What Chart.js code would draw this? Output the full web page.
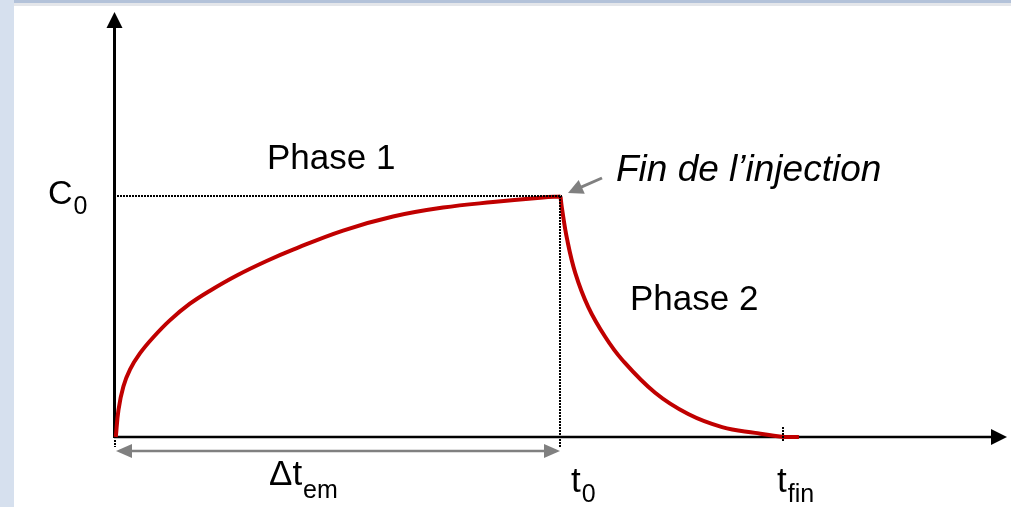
<!DOCTYPE html>
<html>
<head>
<meta charset="utf-8">
<script src="https://cdn.jsdelivr.net/npm/chart.js@4/dist/chart.umd.min.js"></script>
<style>
  html, body { margin: 0; padding: 0; background: #fff; overflow: hidden; }
  canvas { display: block; }
</style>
</head>
<body>
<canvas id="chart-conc" width="1011" height="507"></canvas>
<script>
// phase 1 : injection (concentration rises toward C0)
const phase1T = [0.04, 0.1, 0.21, 0.36, 0.58, 0.87, 1.25, 1.7, 2.15, 2.76, 3.43, 4.01, 5.13, 6.25, 7.37, 8.49, 9.61, 10];
const phase1C = [0, 0.112, 0.209, 0.28, 0.346, 0.411, 0.483, 0.552, 0.606, 0.67, 0.73, 0.776, 0.855, 0.913, 0.95, 0.973, 0.992, 0.996];
// phase 2 : after end of injection (decay)
const phase2T = [10, 10.03, 10.15, 10.33, 10.62, 11.0, 11.38, 12.12, 12.86, 13.62, 14.36, 15.03, 15.34];
const phase2C = [0.996, 0.95, 0.817, 0.68, 0.539, 0.415, 0.32, 0.183, 0.095, 0.041, 0.017, 0, 0];

const tZero = 10;      // t0
const tFin = 15;       // tfin
const cZero = 1;       // C0
const xMax = 20;
const yMax = 1.76;

const RED = '#c00000';
const GREY = '#808080';
const FONT = '"Liberation Sans", Arial, sans-serif';

function head(ctx, x, y, ang, len, half, color) {
  ctx.save();
  ctx.translate(x, y);
  ctx.rotate(ang);
  ctx.fillStyle = color;
  ctx.beginPath();
  ctx.moveTo(0, 0);
  ctx.lineTo(-len, -half);
  ctx.lineTo(-len, half);
  ctx.closePath();
  ctx.fill();
  ctx.restore();
}

function dotted(ctx, x1, y1, x2, y2) {
  ctx.save();
  ctx.strokeStyle = '#000';
  ctx.lineWidth = 2;
  ctx.setLineDash([2, 1]);
  ctx.beginPath();
  ctx.moveTo(x1, y1);
  ctx.lineTo(x2, y2);
  ctx.stroke();
  ctx.restore();
}

// main text + subscript
function subText(ctx, main, sub, x, y, size, subSize, drop) {
  ctx.font = size + 'px ' + FONT;
  ctx.fillText(main, x, y);
  const w = ctx.measureText(main).width;
  ctx.font = subSize + 'px ' + FONT;
  ctx.fillText(sub, x + w + 1, y + drop);
}

const diagram = {
  id: 'diagram',
  beforeDraw(chart) {
    const ctx = chart.ctx;
    ctx.save();
    ctx.fillStyle = '#d6e0ee';
    ctx.fillRect(0, 0, chart.width, chart.height);
    ctx.fillStyle = '#b3c2d9';
    ctx.fillRect(14, 0, chart.width, 3);
    ctx.fillStyle = '#e4e6ea';
    ctx.fillRect(14, 3, chart.width, 3);
    ctx.fillStyle = '#fff';
    ctx.fillRect(14, 6, chart.width, chart.height);
    ctx.restore();
  },
  beforeDatasetsDraw(chart) {
    const ctx = chart.ctx;
    const xs = chart.scales.x, ys = chart.scales.y;
    const x0 = Math.round(xs.getPixelForValue(0)), y0 = Math.round(ys.getPixelForValue(0));
    const xEnd = xs.getPixelForValue(xMax), yTop = ys.getPixelForValue(yMax);
    ctx.save();
    ctx.strokeStyle = '#000';
    // y axis
    ctx.lineWidth = 3;
    ctx.beginPath();
    ctx.moveTo(x0 + 0.5, y0 + 1);
    ctx.lineTo(x0 + 0.5, yTop + 12);
    ctx.stroke();
    head(ctx, x0 + 0.5, yTop, -Math.PI / 2, 16, 8, '#000');
    // x axis
    ctx.lineWidth = 2.5;
    ctx.beginPath();
    ctx.moveTo(x0, y0);
    ctx.lineTo(xEnd - 12, y0);
    ctx.stroke();
    head(ctx, xEnd, y0, 0, 16, 8, '#000');
    ctx.restore();
  },
  afterDatasetsDraw(chart) {
    const ctx = chart.ctx;
    const xs = chart.scales.x, ys = chart.scales.y;
    const x0 = Math.round(xs.getPixelForValue(0)), y0 = Math.round(ys.getPixelForValue(0));
    const xt0 = Math.round(xs.getPixelForValue(tZero)), xtf = Math.round(xs.getPixelForValue(tFin));
    const yc0 = Math.round(ys.getPixelForValue(cZero));

    dotted(ctx, x0 + 3, yc0, xt0 + 1, yc0);
    dotted(ctx, xt0 - 1, yc0, xt0 - 1, y0 + 10);
    dotted(ctx, xtf - 1, y0 - 10, xtf - 1, y0 + 4);
    dotted(ctx, x0 + 1, y0 + 3, x0 + 1, y0 + 10);

    // delta t arrow
    const ya = y0 + 14;
    ctx.save();
    ctx.strokeStyle = GREY;
    ctx.lineWidth = 2.5;
    ctx.beginPath();
    ctx.moveTo(x0 + 12, ya);
    ctx.lineTo(xt0 - 12, ya);
    ctx.stroke();
    head(ctx, x0 + 2, ya, Math.PI, 16, 7, GREY);
    head(ctx, xt0 - 1, ya, 0, 16, 7, GREY);

    // pointer to end of injection
    const px = xt0 + 7, py = yc0 - 3;
    const ang = Math.atan2(py - 178, px - 602);
    ctx.beginPath();
    ctx.moveTo(602, 178);
    ctx.lineTo(px - 10 * Math.cos(ang), py - 10 * Math.sin(ang));
    ctx.lineWidth = 3;
    ctx.stroke();
    head(ctx, px, py, ang, 15, 7.5, GREY);
    ctx.restore();

    // texts
    ctx.save();
    ctx.fillStyle = '#000';
    ctx.textBaseline = 'alphabetic';
    ctx.font = '35px ' + FONT;
    ctx.fillText('Phase 1', 267, 169);
    ctx.fillText('Phase 2', 630, 310);
    ctx.font = 'italic 37px ' + FONT;
    ctx.fillText('Fin de l\u2019injection', 616, 181);
    subText(ctx, 'C', '0', x0 - 66, yc0 + 8, 34, 25, 10);
    subText(ctx, '\u0394t', 'em', 269, y0 + 48, 35, 25, 13);
    subText(ctx, 't', '0', xt0 + 10, y0 + 55, 35, 25, 10);
    subText(ctx, 't', 'fin', xtf - 7, y0 + 55, 35, 25, 10);
    ctx.restore();
  }
};

const pts = (xs, ys) => xs.map((v, i) => ({ x: v, y: ys[i] }));

new Chart(document.getElementById('chart-conc'), {
  type: 'line',
  data: {
    datasets: [
      {
        label: 'Phase 1',
        data: pts(phase1T, phase1C),
        borderColor: RED,
        borderWidth: 4,
        pointRadius: 0,
        tension: 0.4,
        clip: false
      },
      {
        label: 'Phase 2',
        data: pts(phase2T, phase2C),
        borderColor: RED,
        borderWidth: 4,
        pointRadius: 0,
        tension: 0.4,
        clip: false
      }
    ]
  },
  options: {
    responsive: false,
    animation: false,
    layout: { padding: { left: 114, right: 4, top: 12, bottom: 70 } },
    scales: {
      x: { type: 'linear', min: 0, max: xMax, display: false },
      y: { type: 'linear', min: 0, max: yMax, display: false }
    },
    plugins: {
      legend: { display: false },
      tooltip: { enabled: false }
    }
  },
  plugins: [diagram]
});
</script>
</body>
</html>
